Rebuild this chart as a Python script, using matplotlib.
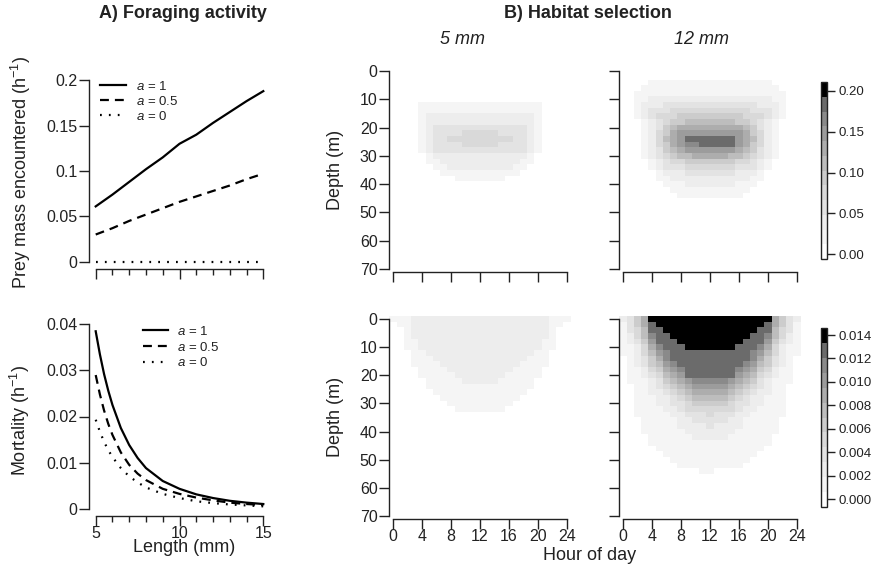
import matplotlib
matplotlib.use('Agg')
import matplotlib.pyplot as plt
import numpy as np
from matplotlib.colors import ListedColormap, BoundaryNorm
from matplotlib.cm import ScalarMappable

plt.rcParams['font.family'] = ['Liberation Sans', 'DejaVu Sans']
plt.rcParams['mathtext.fontset'] = 'custom'
plt.rcParams['mathtext.rm'] = 'Liberation Sans'
plt.rcParams['mathtext.it'] = 'Liberation Sans:italic'

W, H = 881, 568
INK = '#222222'

# A) foraging activity
length = [5, 6, 7, 8, 9, 10, 11, 12, 13, 14, 15]
prey_a1 = [0.061, 0.074, 0.088, 0.102, 0.115, 0.130, 0.140, 0.153, 0.165, 0.177, 0.188]
prey_a05 = [0.030, 0.037, 0.045, 0.052, 0.059, 0.066, 0.072, 0.078, 0.084, 0.091, 0.097]
prey_a0 = [0, 0, 0, 0, 0, 0, 0, 0, 0, 0, 0]

length_m = [5, 5.25, 5.5, 5.75, 6, 6.5, 7, 7.5, 8, 9, 10, 11, 12, 13, 14, 15]
mort_a1 = [0.0385, 0.0335, 0.0292, 0.0256, 0.0225, 0.0175, 0.0138, 0.0110, 0.0088,
           0.0060, 0.0043, 0.0031, 0.0023, 0.0017, 0.0013, 0.0010]
mort_a05 = [0.0290, 0.0248, 0.0213, 0.0184, 0.0160, 0.0122, 0.0095, 0.0076, 0.0062,
            0.0043, 0.0032, 0.0024, 0.0018, 0.0013, 0.0010, 0.0008]
mort_a0 = [0.0193, 0.0167, 0.0145, 0.0127, 0.0112, 0.0088, 0.0070, 0.0057, 0.0046,
           0.0032, 0.0023, 0.0016, 0.0012, 0.0009, 0.0007, 0.0005]

# B) habitat selection: hour 0..24 (columns), depth 0..70 step 2 (rows)
# each character is the colour class (hex digit)
hours = np.arange(0, 25)
depths = np.arange(0, 71, 2)

hab_top_5mm = [
    "0000000000000000000000000",
    "0000000000000000000000000",
    "0000000000000000000000000",
    "0000000000000000000000000",
    "0000000000000000000000000",
    "0000000000000000000000000",
    "0000111111111111111110000",
    "0000111111111111111110000",
    "0000122222222222222210000",
    "0000122222222222222210000",
    "0000123333333333333210000",
    "0000123333444443333210000",
    "0000123344444444433210000",
    "0000123333444443333210000",
    "0000123333333333333210000",
    "0000012222222222222100000",
    "0000011222222222221100000",
    "0000001122222222211000000",
    "0000000111111111110000000",
    "0000000001111111000000000",
    "0000000000000000000000000",
    "0000000000000000000000000",
    "0000000000000000000000000",
    "0000000000000000000000000",
    "0000000000000000000000000",
    "0000000000000000000000000",
    "0000000000000000000000000",
    "0000000000000000000000000",
    "0000000000000000000000000",
    "0000000000000000000000000",
    "0000000000000000000000000",
    "0000000000000000000000000",
    "0000000000000000000000000",
    "0000000000000000000000000",
    "0000000000000000000000000",
    "0000000000000000000000000",
]

hab_top_12mm = [
    "0000000000000000000000000",
    "0000000000000000000000000",
    "0000111111111111111110000",
    "0001111111111111111111000",
    "0011111111111111111111100",
    "0011222222222222222221100",
    "0012223333333333333222100",
    "0012333444444444443332100",
    "0012344455555555544432100",
    "0001234556666666554321000",
    "0001235677777777765321000",
    "0001245788888888875421000",
    "000124678aaaaaaa876421000",
    "00012457899aaaaa875421000",
    "0001235678888888765321000",
    "0001234566777776654321000",
    "0000123445555555443210000",
    "0000123334444444333210000",
    "0000012223333333222100000",
    "0000011222222222221100000",
    "0000001112222222111000000",
    "0000000111111111110000000",
    "0000000011111111100000000",
    "0000000000000000000000000",
    "0000000000000000000000000",
    "0000000000000000000000000",
    "0000000000000000000000000",
    "0000000000000000000000000",
    "0000000000000000000000000",
    "0000000000000000000000000",
    "0000000000000000000000000",
    "0000000000000000000000000",
    "0000000000000000000000000",
    "0000000000000000000000000",
    "0000000000000000000000000",
    "0000000000000000000000000",
]

hab_bot_5mm = [
    "1112222222222222222222111",
    "0112222222222222222222110",
    "0012222222222222222222100",
    "0012222222222222222222100",
    "0011222222222222222221100",
    "0011222222222222222221100",
    "0001122222222222222211000",
    "0001112222222222222111000",
    "0001111222222222221111000",
    "0000111122222222211110000",
    "0000111112222222111110000",
    "0000011111222221111100000",
    "0000011111111111111100000",
    "0000001111111111111000000",
    "0000000111111111110000000",
    "0000000011111111100000000",
    "0000000001111111000000000",
    "0000000000000000000000000",
    "0000000000000000000000000",
    "0000000000000000000000000",
    "0000000000000000000000000",
    "0000000000000000000000000",
    "0000000000000000000000000",
    "0000000000000000000000000",
    "0000000000000000000000000",
    "0000000000000000000000000",
    "0000000000000000000000000",
    "0000000000000000000000000",
    "0000000000000000000000000",
    "0000000000000000000000000",
    "0000000000000000000000000",
    "0000000000000000000000000",
    "0000000000000000000000000",
    "0000000000000000000000000",
    "0000000000000000000000000",
    "0000000000000000000000000",
]

hab_bot_12mm = [
    "2357bbbbbbbbbbbbbbbbb7532",
    "1357abbbbbbbbbbbbbbba7531",
    "1346aabbbbbbbbbbbbbaa6431",
    "12469aabbbbbbbbbbbaa96421",
    "12358aaabbbbbbbbbaaa85321",
    "112479aaabbbbbbbaaa974211",
    "1124689aaaaaaaaaaa9864211",
    "0123579aaaaaaaaaaa9753210",
    "01235689aaaaaaaaa98653210",
    "011245789aaaaaaa987542110",
    "011234678aaaaaaa876432110",
    "0111235678999998765321110",
    "0011234567888887654321100",
    "0011223456777776543221100",
    "0011122345666665432211100",
    "0011122334555554332211100",
    "0011112234444444322111100",
    "0011111223334333221111100",
    "0001111122333332211111000",
    "0001111122223222211111000",
    "0001111112222222111111000",
    "0000111111222221111110000",
    "0000111111111111111110000",
    "0000011111111111111100000",
    "0000001111111111111000000",
    "0000000111111111110000000",
    "0000000011111111100000000",
    "0000000000011000000000000",
    "0000000000000000000000000",
    "0000000000000000000000000",
    "0000000000000000000000000",
    "0000000000000000000000000",
    "0000000000000000000000000",
    "0000000000000000000000000",
    "0000000000000000000000000",
    "0000000000000000000000000",
]

# colour classes and the range each colour bar covers
grays = [1.0, 0.96, 0.93, 0.89, 0.85, 0.80, 0.74, 0.68, 0.61, 0.54, 0.42, 0.0]
top_range = (-0.006, 0.211)
bot_range = (-0.00068, 0.0146)
top_ticks = [0.0, 0.05, 0.10, 0.15, 0.20]
bot_ticks = [0.0, 0.002, 0.004, 0.006, 0.008, 0.010, 0.012, 0.014]

hab_cmap = ListedColormap([(g, g, g) for g in grays])
nbin = len(grays)

fig = plt.figure(figsize=(8.81, 5.68), dpi=100)


def add_px_axes(l, t, r, b):
    return fig.add_axes([l / W, 1 - b / H, (r - l) / W, (b - t) / H])


def r_axes(ax, xb, yb):
    for s in ['top', 'right']:
        ax.spines[s].set_visible(False)
    ax.spines['left'].set_bounds(*yb)
    ax.spines['bottom'].set_bounds(*xb)
    for s in ['left', 'bottom']:
        ax.spines[s].set_color(INK)
        ax.spines[s].set_linewidth(1.0)
    ax.tick_params(direction='out', length=7, width=1.0, color=INK,
                   labelcolor=INK, labelsize=11.5, pad=1.5)
    ax.tick_params(axis='x', pad=0)


def hab_norm(rng):
    lo, hi = rng
    edges = lo + (hi - lo) / nbin * np.arange(nbin + 1)
    return BoundaryNorm(edges, nbin)


def draw_hab(ax, rows, rng, xlabels, ylabels):
    lo, hi = rng
    for r in rows:
        assert len(r) == len(hours), r
    lev = np.array([[int(c, 16) for c in r] for r in rows])
    vals = lo + (lev + 0.5) * (hi - lo) / nbin
    xe = np.append(hours - 0.5, hours[-1] + 0.5)
    ye = np.append(depths - 1, depths[-1] + 1)
    ax.pcolormesh(xe, ye, vals, cmap=hab_cmap, norm=hab_norm(rng))
    ax.set_xlim(xe[0], xe[-1])
    ax.set_ylim(ye[-1], ye[0])
    r_axes(ax, (0, 24), (0, 70))
    ax.set_xticks(range(0, 25, 4))
    ax.set_yticks(range(0, 71, 10))
    ax.tick_params(labelbottom=xlabels, labelleft=ylabels)


def draw_cbar(cax, rng, ticks, fmt):
    cb = fig.colorbar(ScalarMappable(norm=hab_norm(rng), cmap=hab_cmap), cax=cax)
    cb.minorticks_off()
    cb.set_ticks(ticks)
    cb.set_ticklabels([fmt % t for t in ticks])
    cb.outline.set_linewidth(1.0)
    cb.outline.set_edgecolor(INK)
    cax.tick_params(which='minor', length=0)
    cax.tick_params(direction='out', length=6, width=1.0, color=INK,
                    labelcolor=INK, labelsize=9.5, pad=2)


lw = 1.6
# top-left: prey mass encountered
ax = add_px_axes(89, 73, 270, 269)
ax.plot(length, prey_a1, color='k', lw=lw, label='$a$ = 1')
ax.plot(length, prey_a05, color='k', lw=lw, ls=(0, (4, 2.7)), label='$a$ = 0.5')
ax.plot(length, prey_a0, color='k', lw=lw, ls=(0, (0.8, 3.2)), label='$a$ = 0')
ax.set_xlim(4.6, 15.4)
ax.set_ylim(-0.008, 0.208)
r_axes(ax, (5, 15), (0, 0.2))
ax.set_xticks([5, 10, 15])
ax.set_xticks(range(5, 16), minor=True)
ax.set_yticks([0, 0.05, 0.1, 0.15, 0.2])
ax.set_yticklabels(['0', '0.05', '0.1', '0.15', '0.2'])
ax.tick_params(axis='x', which='major', labelbottom=False)
ax.tick_params(axis='x', which='minor', length=4.5, width=1.0, color=INK)
ax.legend(frameon=False, loc='upper left', bbox_to_anchor=(0.06, 0.965),
          borderpad=0, borderaxespad=0, fontsize=9.5, handlelength=2.0,
          handletextpad=0.75, labelspacing=0.15, labelcolor=INK)

# bottom-left: mortality
ax = add_px_axes(89, 317, 270, 516)
ax.plot(length_m, mort_a1, color='k', lw=lw, label='$a$ = 1')
ax.plot(length_m, mort_a05, color='k', lw=lw, ls=(0, (4, 2.7)), label='$a$ = 0.5')
ax.plot(length_m, mort_a0, color='k', lw=lw, ls=(0, (0.8, 3.2)), label='$a$ = 0')
ax.set_xlim(4.6, 15.4)
ax.set_ylim(-0.0016, 0.0416)
r_axes(ax, (5, 15), (0, 0.04))
ax.set_xticks([5, 10, 15])
ax.set_xticks(range(5, 16), minor=True)
ax.set_yticks([0, 0.01, 0.02, 0.03, 0.04])
ax.set_yticklabels(['0', '0.01', '0.02', '0.03', '0.04'])
ax.tick_params(axis='x', which='minor', length=4.5, width=1.0, color=INK)
ax.legend(frameon=False, loc='upper left', bbox_to_anchor=(0.298, 0.96),
          borderpad=0, borderaxespad=0, fontsize=9.5, handlelength=1.9,
          handletextpad=0.7, labelspacing=0.2, labelcolor=INK)

# heatmaps
ax = add_px_axes(389.4, 68.2, 570.6, 271.8)
draw_hab(ax, hab_top_5mm, top_range, False, True)
ax = add_px_axes(619.4, 68.2, 800.6, 271.8)
draw_hab(ax, hab_top_12mm, top_range, False, False)
ax = add_px_axes(389.4, 316.2, 570.6, 518.8)
draw_hab(ax, hab_bot_5mm, bot_range, True, True)
ax = add_px_axes(619.4, 316.2, 800.6, 518.8)
draw_hab(ax, hab_bot_12mm, bot_range, True, False)

draw_cbar(add_px_axes(821, 82, 827, 259), top_range, top_ticks, '%.2f')
draw_cbar(add_px_axes(821, 328, 827, 507), bot_range, bot_ticks, '%.3f')

# texts
def ftext(x, y, s, **kw):
    fig.text(x / W, 1 - y / H, s, ha='center', va='center', color=INK, **kw)

ftext(183, 13, 'A) Foraging activity', size=13, weight='bold')
ftext(588, 13, 'B) Habitat selection', size=13, weight='bold')
ftext(462, 40, '5 mm', size=13, style='italic')
ftext(701, 40, '12 mm', size=13, style='italic')
ftext(21, 172, 'Prey mass encountered (h$^{-1}$)', size=13, rotation=90)
ftext(20, 421, 'Mortality (h$^{-1}$)', size=13, rotation=90)
ftext(335, 170, 'Depth (m)', size=13, rotation=90)
ftext(335, 417, 'Depth (m)', size=13, rotation=90)
ftext(184, 548, 'Length (mm)', size=13)
ftext(590, 556, 'Hour of day', size=13)

fig.savefig('out.png', dpi=100)
